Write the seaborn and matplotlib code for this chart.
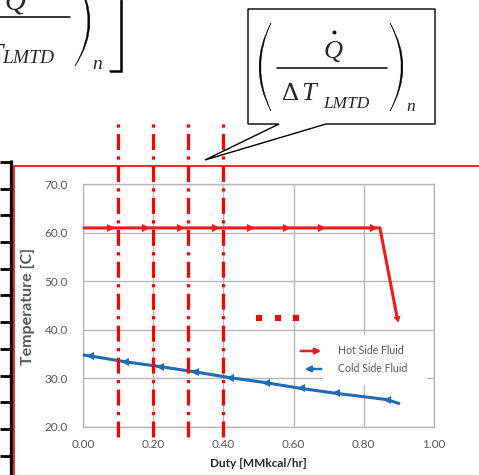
import numpy as np
import pandas as pd
import matplotlib
matplotlib.use("Agg")
import matplotlib.pyplot as plt
from matplotlib.path import Path
from matplotlib.patches import PathPatch, Polygon, Rectangle
import seaborn as sns

# =========================
# Data
# =========================
hot_duty = [0.00, 0.08, 0.18, 0.28, 0.38, 0.48, 0.58, 0.68, 0.83, 0.846, 0.895]
hot_temp = [61.0, 61.0, 61.0, 61.0, 61.0, 61.0, 61.0, 61.0, 61.0, 61.0, 42.5]

cold_duty = [0.00, 0.02, 0.12, 0.22, 0.32, 0.42, 0.52, 0.62, 0.72, 0.865, 0.90]
cold_temp = [34.8, 34.6, 33.4, 32.4, 31.3, 30.1, 29.1, 27.9, 26.9, 25.6, 24.8]

segment_lines = [0.1, 0.2, 0.3, 0.4]       # red dash-dot cut lines
x_ticks = [0.0, 0.2, 0.4, 0.6, 0.8, 1.0]
y_ticks = [20, 30, 40, 50, 60, 70]
series_names = ["Hot Side Fluid", "Cold Side Fluid"]

HOT = "#f01a1a"
COLD = "#1f6cb4"
GRID = "#b8b8b8"
TXT = "#595959"

sns.set_style("white")
plt.rcParams["font.family"] = ["Lato", "DejaVu Sans"]

W, H = 479, 475
fig = plt.figure(figsize=(W / 100, H / 100), dpi=100)

# main chart axes (pixel box 83..434 x 184..427)
L, R, T, B = 83, 434, 184.3, 426.7
ax = fig.add_axes([L / W, 1 - B / H, (R - L) / W, (B - T) / H])
ax.set_facecolor("none")

df_hot = pd.DataFrame({"Duty": hot_duty, "Temp": hot_temp})
df_cold = pd.DataFrame({"Duty": cold_duty, "Temp": cold_temp})

sns.lineplot(data=df_hot, x="Duty", y="Temp", ax=ax, color=HOT, lw=2.2,
             marker=">", markersize=6, markevery=list(range(1, 9)),
             markeredgewidth=0, legend=False, zorder=4)
sns.lineplot(data=df_cold, x="Duty", y="Temp", ax=ax, color=COLD, lw=2.2,
             marker="<", markersize=6, markevery=list(range(1, 10)),
             markeredgewidth=0, legend=False, zorder=4)
# arrow head at the end of the hot line, pointing along the last segment
ax.plot(hot_duty[-1:], hot_temp[-1:], ls="none", marker=(3, 0, -169),
        markersize=6, color=HOT, markeredgewidth=0, zorder=5)

ax.set_xlim(0, 1.0)
ax.set_ylim(20, 70)
ax.set_xticks(x_ticks)
ax.set_yticks(y_ticks)
ax.set_xticklabels([f"{v:.2f}" for v in x_ticks])
ax.set_yticklabels([f"{v:.1f}" for v in y_ticks])
ax.grid(True, color=GRID, lw=1.0)
for s in ax.spines.values():
    s.set_color(GRID)
    s.set_linewidth(1.0)
ax.tick_params(axis="both", colors=GRID, labelcolor=TXT, labelsize=8.5,
               length=3, width=1, direction="out")
ax.tick_params(axis="y", pad=8)
ax.tick_params(axis="x", pad=6)

ax.set_xlabel("Duty [MMkcal/hr]", fontsize=8.5, fontweight="bold", color="#262626")
ax.xaxis.set_label_coords(0.501, -0.15)
ax.xaxis.label.set_va("center")
ax.set_ylabel("Temperature [C]", fontsize=11.5, fontweight="bold", color=TXT)
ax.yaxis.set_label_coords(-0.157, 0.498)
ax.yaxis.label.set_va("center")

# red dash-dot segment lines, running above and below the plot box
for xv in segment_lines:
    ax.axvline(xv, ymin=-0.0425, ymax=1.253, color="#ff0000", lw=2.3,
               dashes=(5, 2, 1, 2), clip_on=False, zorder=6)

# red "..." between segments
ax.plot([0.501, 0.556, 0.607], [42.4, 42.4, 42.4], ls="none", marker="s",
        markersize=3.8, color="#ff0000", markeredgewidth=0, zorder=6)

# =========================
# Overlay in pixel coords: slide decorations
# =========================
ov = fig.add_axes([0, 0, 1, 1], zorder=3)
ov.set_xlim(0, W)
ov.set_ylim(H, 0)
ov.axis("off")
ov.patch.set_alpha(0)

# table edge on the left
ov.plot([11, 11], [160, H], color="black", lw=2.4, solid_capstyle="butt")
for yy in np.arange(162, H, 26.7):
    ov.plot([0, 11], [yy, yy], color="black", lw=2.0, solid_capstyle="butt")

# red frame of the chart picture
ov.plot([14, 14, W], [H, 166, 166], color="#ff0000", lw=1.2)

# legend
ov.add_patch(Rectangle((323, 334), 104, 51, facecolor="white", edgecolor="none", zorder=1))
ov.annotate("", xy=(324, 351), xytext=(298, 351),
            arrowprops=dict(arrowstyle="-|>", color=HOT, lw=1.8, mutation_scale=8), zorder=2)
ov.annotate("", xy=(302, 369), xytext=(324, 369),
            arrowprops=dict(arrowstyle="-|>", color=COLD, lw=1.8, mutation_scale=8), zorder=2)
ov.text(338, 351, series_names[0], fontsize=7.6, color=TXT, va="center", zorder=2)
ov.text(338, 369, series_names[1], fontsize=7.6, color=TXT, va="center", zorder=2)


def paren(a, x_end, x_peak, y_top, y_bot, thick):
    # crescent-shaped bracket made of two quadratic curves
    ym = (y_top + y_bot) / 2
    c_out = x_end + 2 * (x_peak - x_end)
    sgn = 1 if x_peak > x_end else -1
    c_in = x_end + 2 * (x_peak - sgn * thick - x_end)
    verts = [(x_end, y_top), (c_out, ym), (x_end, y_bot),
             (c_in, ym), (x_end, y_top), (x_end, y_top)]
    codes = [Path.MOVETO, Path.CURVE3, Path.CURVE3, Path.CURVE3, Path.CURVE3, Path.CLOSEPOLY]
    a.add_patch(PathPatch(Path(verts, codes), facecolor="black", edgecolor="black", lw=0.3, zorder=5))


serif = ["Liberation Serif", "DejaVu Serif"]

# top-left equation fragment (cut by the picture edge)
ov.text(4, 9, "Q", fontsize=21, family=serif, style="italic", va="baseline")
ov.plot([0, 70], [17, 17], color="black", lw=1.1)
ov.text(-14, 63, "T", fontsize=21, family=serif, style="italic", va="baseline")
ov.text(2, 63, "LMTD", fontsize=14, family=serif, style="italic", va="baseline")
paren(ov, 75, 90, -23, 66, 2.0)
ov.text(92, 69, "n", fontsize=14, family=serif, style="italic", va="baseline")
ov.plot([110, 121.5, 121.5], [70.5, 70.5, 0], color="black", lw=1.8, solid_joinstyle="miter")

# callout box with pointer
call = Polygon([(248, 9), (435, 9), (435, 124), (326, 124), (205, 160), (279, 124), (248, 124)],
               closed=True, facecolor="white", edgecolor="black", lw=1.0, zorder=4)
ov.add_patch(call)
paren(ov, 271, 259, 23, 111, 1.8)
paren(ov, 390, 403, 23, 111, 1.8)
ov.text(333, 58, "Q", fontsize=19, family=serif, style="italic", va="baseline", ha="center", zorder=5)
ov.plot([334], [32], marker="o", markersize=1.8, color="black", zorder=5)
ov.plot([277, 387], [68, 68], color="black", lw=1.1, zorder=5)
ov.text(282, 100, "\u0394", fontsize=19, family=serif, va="baseline", zorder=5)
ov.text(301, 100, "T", fontsize=19, family=serif, style="italic", va="baseline", zorder=5)
ov.text(323, 108, "LMTD", fontsize=12.5, family=serif, style="italic", va="baseline", zorder=5)
ov.text(406, 111, "n", fontsize=12.5, family=serif, style="italic", va="baseline", zorder=5)

fig.savefig("out.png", dpi=100)
